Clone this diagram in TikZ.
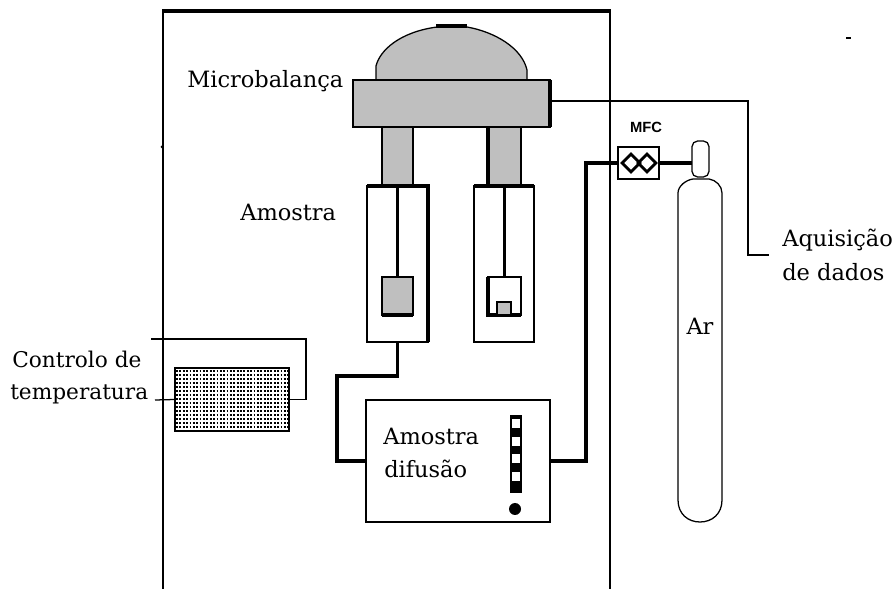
\documentclass[tikz,border=0pt]{standalone}
\usepackage{fontspec}
\setmainfont{DejaVu Serif}
\setsansfont{Liberation Sans}
\usetikzlibrary{shapes.geometric}
\definecolor{unitgray}{gray}{0.75}
\def\px{0.025cm}
\tikzset{
    part/.style={draw=black, line width=0.9pt, inner sep=0pt, outer sep=0pt},
    grayPart/.style={part, fill=unitgray},
    wire/.style={draw=black, line width=0.9pt},
    pipe/.style={draw=black, line width=2.2pt, line join=miter},
    heavy/.style={draw=black, line width=2.2pt},
    label/.style={font=\fontsize{16}{18}\selectfont, inner sep=0pt, anchor=west, align=left},
    labelSmall/.style={label, font=\fontsize{15.4}{18}\selectfont},
}
\begin{document}
\begin{tikzpicture}[x=0.025cm, y=-0.025cm]
    \useasboundingbox (0,0) rectangle (896,589);

    % Furnace frame (open at the bottom)
    \draw[line width=1.3pt] (163,589) -- (163,11) -- (610,11) -- (610,589);
    \draw[line width=2.2pt] (162,11) -- (611,11);
    \fill (162,147) circle (1.5);

    % Microbalance
    \draw[part, fill=unitgray] (376,80) -- (376,66) .. controls (380,50) and (400,32) .. (437,27)
        -- (467,27) .. controls (495,32) and (522,48) .. (527,70) -- (527,80) -- cycle;
    \draw[heavy] (436,26) -- (467,26);
    \node[grayPart, minimum width=197*\px, minimum height=47*\px] (bar) at (451.5,103.5) {};
    \draw[heavy] (bar.north east) -- (bar.south east);
    \node[grayPart, minimum width=31*\px, minimum height=58*\px] (colA) at (397.5,156) {};
    \node[grayPart, minimum width=33*\px, minimum height=58*\px] (colB) at (504.5,156) {};
    \draw[heavy] (colB.north west) -- (colB.south west);

    % Sample chambers
    \node[part, fill=white, minimum width=61*\px, minimum height=156*\px] (boxA) at (397.5,264) {};
    \node[part, fill=white, minimum width=60*\px, minimum height=156*\px] (boxB) at (504,264) {};
    \draw[heavy] (boxA.north west) -- (boxA.north east) -- (boxA.south east);
    \draw[heavy] (boxB.north west) -- (boxB.north east);
    \node[grayPart, minimum width=31*\px, minimum height=38*\px] (sampleA) at (397.5,296) {};
    \draw[heavy] (sampleA.south west) -- (sampleA.south east);
    \node[part, fill=white, minimum width=33*\px, minimum height=38*\px] (basket) at (504.5,296) {};
    \draw[heavy] (basket.north west) -- (basket.south west) -- (basket.south east);
    \node[grayPart, minimum width=14*\px, minimum height=13*\px, anchor=south] (sampleB) at (504,315) {};
    \draw[line width=2pt] (boxA.north) -- (sampleA.north);
    \draw[line width=1.5pt] (boxB.north -| basket.north) -- (basket.north);

    % Diffusion sample unit
    \node[part, minimum width=184*\px, minimum height=122*\px] (diff) at (458,461) {};
    \draw[line width=1.6pt] (diff.north east) -- (diff.south east) -- (diff.south west);
    \node[fill=black, minimum width=12*\px, minimum height=78*\px, inner sep=0pt] (scale) at (516,454) {};
    \foreach \yy in {419,437,454,472}
        \fill[white] (512,\yy) rectangle (520,\yy+9);
    \node[circle, fill=black, minimum size=12*\px, inner sep=0pt] (port) at (515,509) {};

    % MFC and argon bottle
    \node[draw=black, line width=1.8pt, minimum width=41*\px, minimum height=32*\px, inner sep=0pt, outer sep=0pt, fill=white] (mfcbox) at (638.5,163) {};
    \foreach \xx in {631,647}
        \node[diamond, draw=black, line width=2pt, minimum size=19*\px, inner sep=0pt] (flow\xx) at (\xx,163) {};
    \node[font=\sffamily\bfseries\fontsize{10.5}{12}\selectfont, inner sep=0pt] (mfclabel) at (646,127) {MFC};
    \node[part, rounded corners=4pt, minimum width=17*\px, minimum height=36*\px] (valve) at (700.5,159) {};
    \draw[part] (678,193) .. controls (678,186) and (686,180) .. (693,179) -- (709,179)
        .. controls (716,180) and (722,186) .. (722,193) -- (722,500)
        .. controls (722,514) and (712,522) .. (700,522)
        .. controls (688,522) and (678,514) .. (678,500) -- cycle;
    \draw[line width=2.2pt] (mfcbox.east) -- (mfcbox.east -| valve.west);
    \node[label, anchor=center] (ar) at (700,326) {Ar};

    % Gas line
    \coordinate (elbow) at (337,376);
    \coordinate (riser) at (586,300);
    \draw[pipe, line width=2.8pt] (boxA.south) |- (elbow) |- (diff.west);
    \draw[pipe] (diff.east) -| (riser) |- (mfcbox.west);

    % Data acquisition line
    \coordinate (signal) at (748,101);
    \coordinate (aqEnd) at (769,255);
    \draw[wire] (bar.east |- signal) -- (signal) |- (aqEnd);

    % Temperature control
    \node[part, line width=1.2pt, minimum width=114*\px, minimum height=63*\px] (heater) at (232,399.5) {};
    \foreach \yy in {371,375,...,429}
        \draw[line width=1.3pt, dash pattern=on 1.3pt off 1.1pt] (176,\yy) -- (288,\yy);
    \coordinate (ctrlTop) at (151,339);
    \coordinate (ctrlCorner) at (306,339);
    \coordinate (ctrlEnd) at (155,400);
    \draw[wire] (ctrlTop) -- (ctrlCorner) |- (heater.east);
    \draw[wire] (ctrlEnd) -- (heater.west);

    % Labels
    \node[label] (microLabel) at (187,81) {Microbalança};
    \node[label] (sampleLabel) at (240,212) {Amostra};
    \node[label] (diffA) at (383,436) {Amostra};
    \node[label] (diffB) at (384,469) {difusão};
    \node[label] (aqA) at (782,240) {Aquisição};
    \node[label] (aqB) at (782,272) {de dados};
    \node[labelSmall] (ctrlA) at (12,359) {Controlo de};
    \node[labelSmall] (ctrlB) at (10,394) {temperatura};
    \draw[line width=0.9pt] (846,38) -- (851,38);
\end{tikzpicture}
\end{document}
